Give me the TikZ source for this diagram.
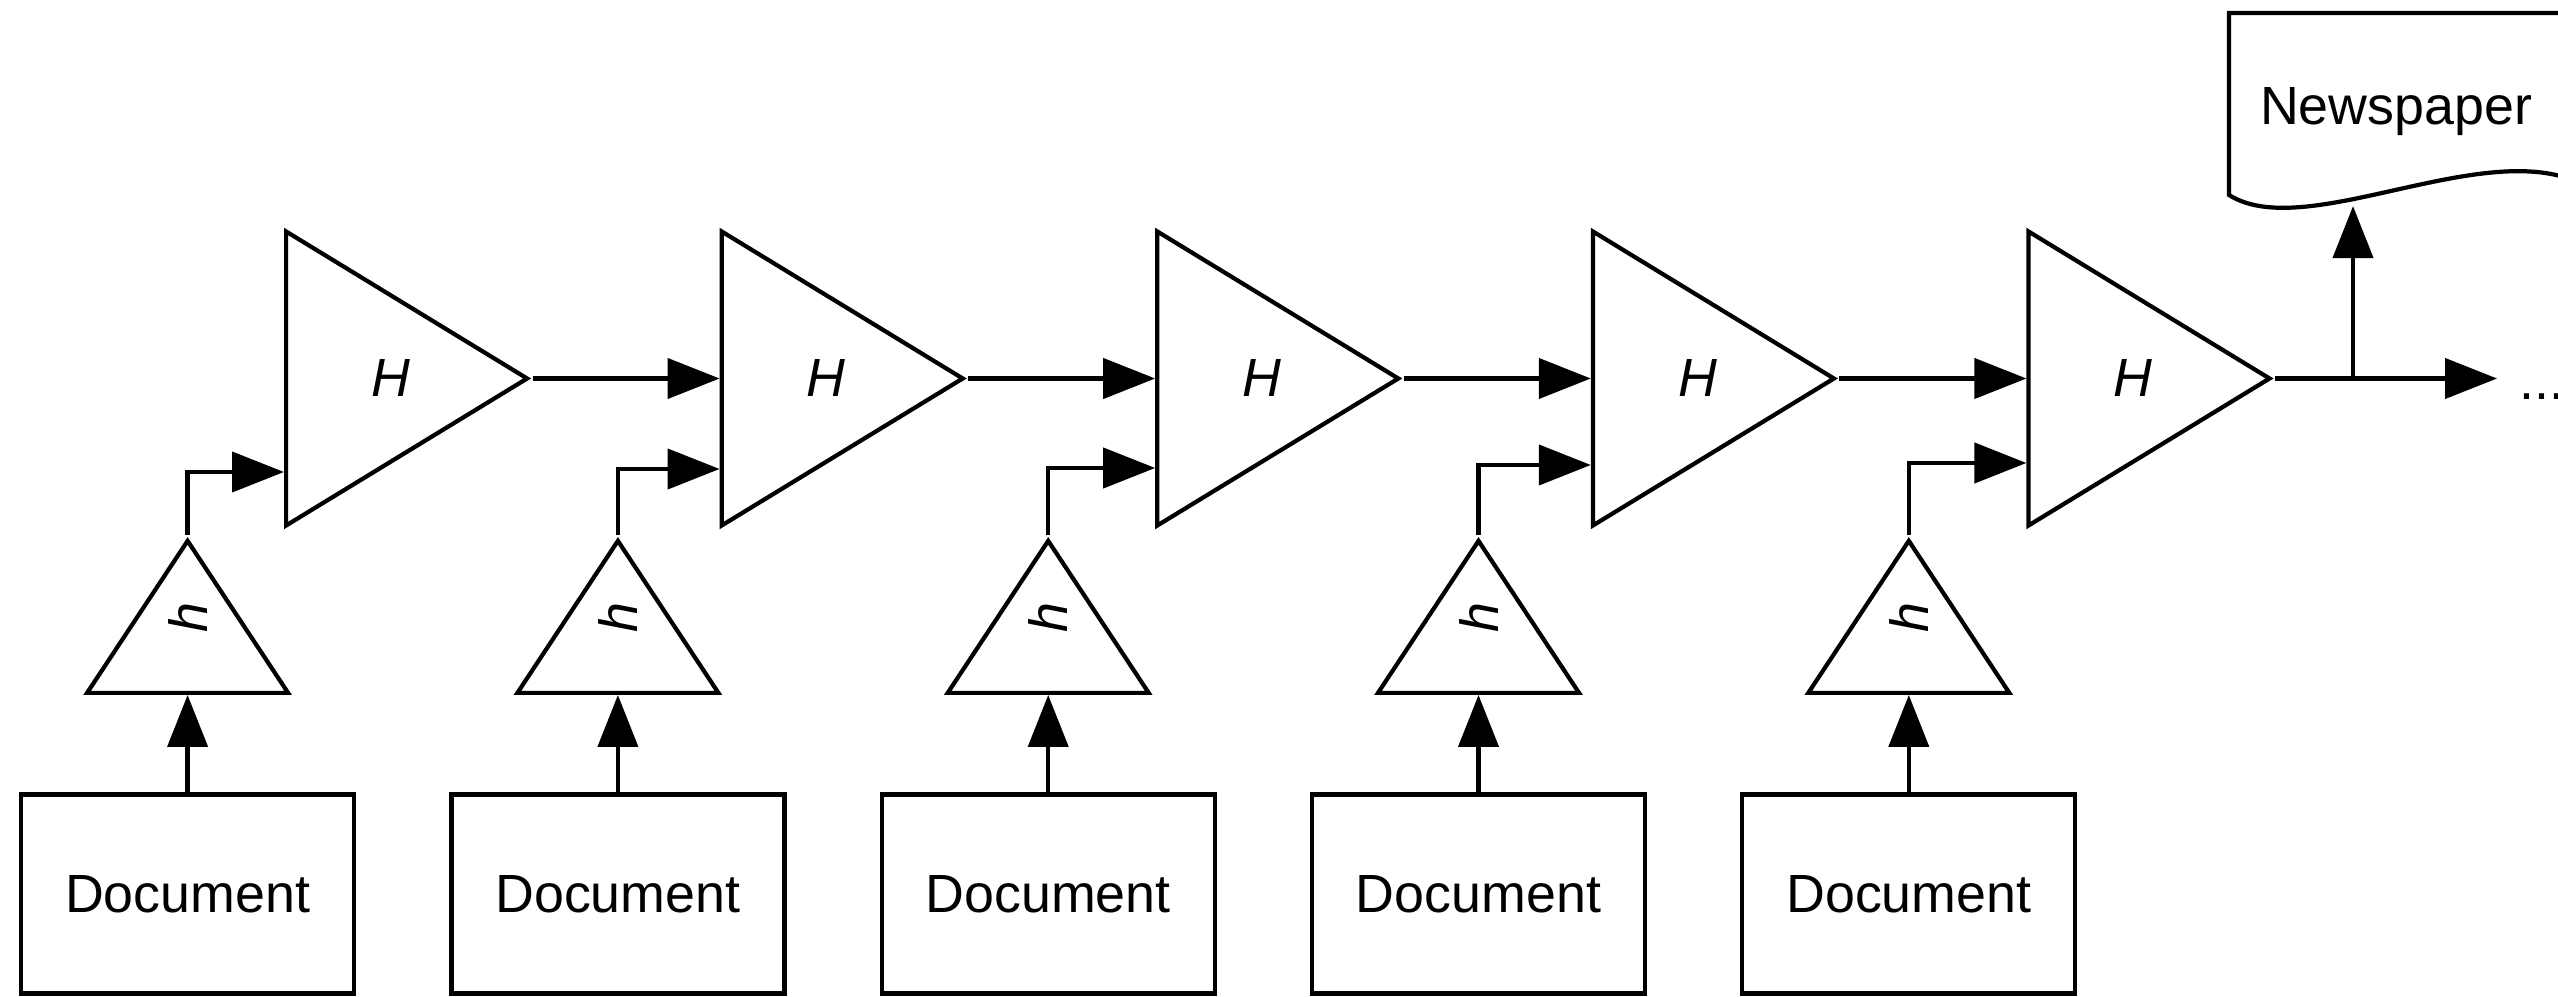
\documentclass[tikz,border=0pt]{standalone}
\usepackage{fontspec}
\setmainfont{Liberation Sans}
\usetikzlibrary{shapes.geometric, arrows.meta}
\usetikzlibrary{positioning}
\tikzstyle{doc} = [rectangle, minimum width=3.33cm, minimum height=1.99cm, text centered, draw=black, fill=white]
\tikzstyle{combiner} = [isosceles triangle, isosceles triangle stretches, minimum width=2.94cm, minimum height=2.41cm, inner sep=0pt, draw=black, fill=white, font=\fontsize{15.3}{18}\selectfont\itshape]
\tikzstyle{encoder} = [isosceles triangle, isosceles triangle stretches, rotate=90, minimum width=2.01cm, minimum height=1.52cm, inner sep=0pt, draw=black, fill=white, font=\fontsize{15.3}{18}\selectfont\itshape]
\tikzstyle{paper} = [rectangle, minimum width=3.33cm, minimum height=1.84cm, text centered]
\tikzstyle{arrow} = [-{Triangle[length=5.2mm,width=4mm]}]

\begin{document}
\begin{tikzpicture}[line width=1.2pt, font=\fontsize{15.3}{18}\selectfont]
 \useasboundingbox (0,0) rectangle (25.58,-9.97);
 \clip (0,0) rectangle (25.58,-9.97);

 \node (doc1) [doc] at (1.876,-8.94) {Document};
 \node (doc2) [doc] at (6.179,-8.94) {Document};
 \node (doc3) [doc] at (10.482,-8.94) {Document};
 \node (doc4) [doc] at (14.785,-8.94) {Document};
 \node (doc5) [doc] at (19.088,-8.94) {Document};

 \node (h1) [encoder, anchor=lower side] at (1.876,-6.95) {\hspace*{4.2mm}h};
 \node (h2) [encoder, anchor=lower side] at (6.179,-6.95) {\hspace*{4.2mm}h};
 \node (h3) [encoder, anchor=lower side] at (10.482,-6.95) {\hspace*{4.2mm}h};
 \node (h4) [encoder, anchor=lower side] at (14.785,-6.95) {\hspace*{4.2mm}h};
 \node (h5) [encoder, anchor=lower side] at (19.088,-6.95) {\hspace*{4.2mm}h};

 \node (H1) [combiner, anchor=lower side] at (2.84,-3.785) {\hspace*{4mm}H};
 \node (H2) [combiner, anchor=lower side] at (7.196,-3.785) {\hspace*{4mm}H};
 \node (H3) [combiner, anchor=lower side] at (11.552,-3.785) {\hspace*{4mm}H};
 \node (H4) [combiner, anchor=lower side] at (15.908,-3.785) {\hspace*{4mm}H};
 \node (H5) [combiner, anchor=lower side] at (20.264,-3.785) {\hspace*{4mm}H};

 \node (news) [paper] at (23.96,-1.12) {Newspaper};
 \draw (22.29,-1.95) -- (22.29,-0.13) -- (26.2,-0.13) -- (26.2,-1.916) -- (25.6,-1.76)
  .. controls (24.6,-1.50) and (23.0,-2.40) .. cycle;
 \node (more) [anchor=base west, inner sep=0pt] at (25.17,-4.0) {...};

 \coordinate (split) at (23.53,-3.785);
 \coordinate (out) at (24.97,-3.785);

 \draw [arrow] (doc1.north) -- (h1.lower side);
 \draw [arrow] (doc2.north) -- (h2.lower side);
 \draw [arrow] (doc3.north) -- (h3.lower side);
 \draw [arrow] (doc4.north) -- (h4.lower side);
 \draw [arrow] (doc5.north) -- (h5.lower side);

 \draw [arrow] (h1.apex) |- ([yshift=-9.35mm]H1.lower side);
 \draw [arrow] (h2.apex) |- ([yshift=-9.05mm]H2.lower side);
 \draw [arrow] (h3.apex) |- ([yshift=-8.95mm]H3.lower side);
 \draw [arrow] (h4.apex) |- ([yshift=-8.65mm]H4.lower side);
 \draw [arrow] (h5.apex) |- ([yshift=-8.45mm]H5.lower side);

 \draw [arrow] (H1.apex) -- (H2.lower side);
 \draw [arrow] (H2.apex) -- (H3.lower side);
 \draw [arrow] (H3.apex) -- (H4.lower side);
 \draw [arrow] (H4.apex) -- (H5.lower side);
 \draw [arrow] (H5.apex) -- (out);
 \draw [arrow] (split) -- (split |- news.south);

\end{tikzpicture}
\end{document}
